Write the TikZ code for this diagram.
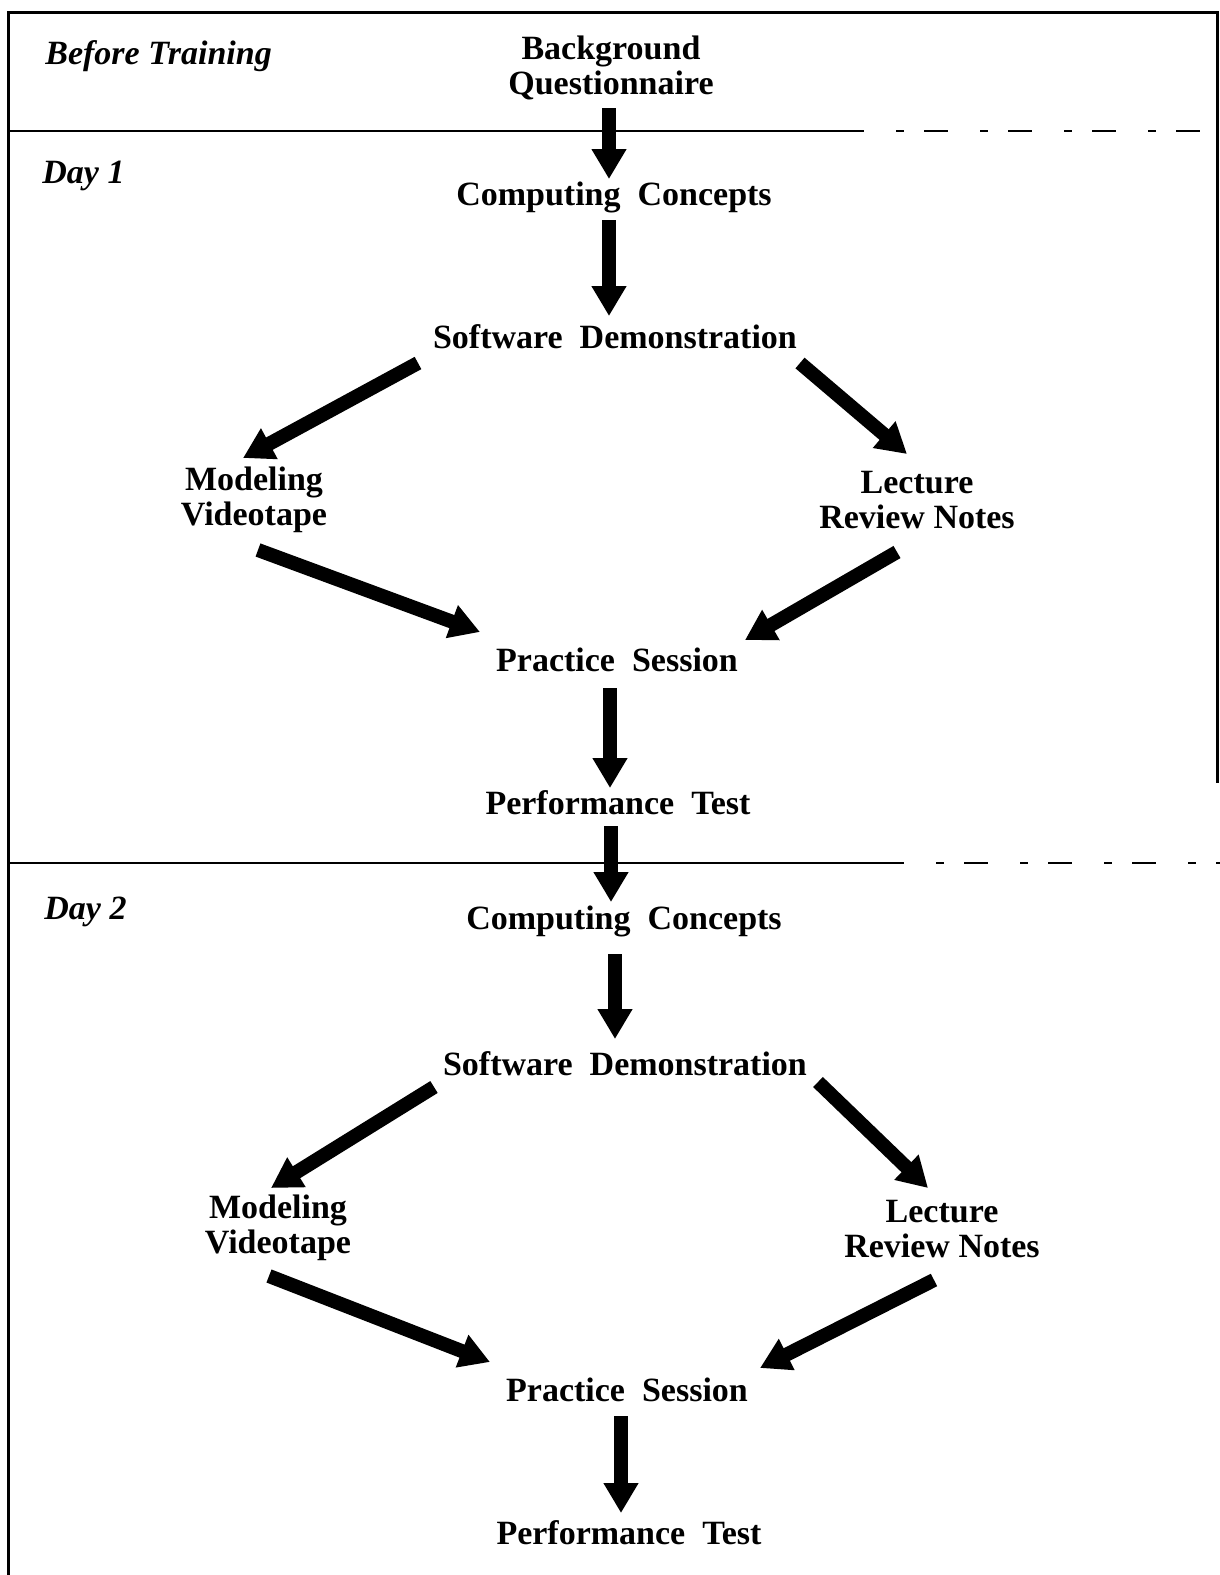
\documentclass[tikz,border=0pt]{standalone}
\usepackage{fontspec}
\setmainfont{Liberation Serif}
\usetikzlibrary{arrows.meta,calc}

\tikzset{
  stage/.style={font=\fontsize{17}{17.5}\selectfont\bfseries, align=center, inner sep=0pt},
  phase/.style={font=\fontsize{17}{17.5}\selectfont\bfseries\itshape, anchor=west, inner sep=0pt},
  flow/.style={line width=7pt, -{Triangle[length=15pt,width=16.5pt]}},
  frame/.style={line width=1.5pt},
  divider/.style={line width=0.8pt},
  brokenrule/.style={line width=0.8pt, dash pattern=on 12pt off 16pt on 4pt off 10pt}
}

\begin{document}
\begin{tikzpicture}[x=0.5pt, y=-0.5pt]
  \useasboundingbox (0,0) rectangle (1220,1575);

  % outer frame: top, left side full height, right side down to day 1 end
  \draw[frame] (8,1575) -- (8,12) -- (1217,12) -- (1217,783);

  % phase dividers
  \draw[divider] (8,131) -- (840,131);
  \draw[brokenrule] (840,131) -- (1218,131);
  \draw[divider] (8,863) -- (880,863);
  \draw[brokenrule] (880,863) -- (1220,863);

  % phase labels
  \node[phase] (before) at (45,56) {Before Training};
  \node[phase] (day1)   at (42,176) {Day 1};
  \node[phase] (day2)   at (44,912) {Day 2};

  % before training
  \node[stage] (bq) at (611,68) {Background\\Questionnaire};

  % day 1
  \node[stage] (cc1) at (614,197) {Computing \ Concepts};
  \node[stage] (sd1) at (615,337) {Software \ Demonstration};
  \node[stage] (mv1) at (254,500) {Modeling\\Videotape};
  \node[stage] (lr1) at (917,500) {Lecture\\Review Notes};
  \node[stage] (ps1) at (617,660) {Practice \ Session};
  \node[stage] (pt1) at (618,803) {Performance \ Test};

  % day 2
  \node[stage] (cc2) at (624,921) {Computing \ Concepts};
  \node[stage] (sd2) at (625,1064) {Software \ Demonstration};
  \node[stage] (mv2) at (278,1228) {Modeling\\Videotape};
  \node[stage] (lr2) at (942,1229) {Lecture\\Review Notes};
  \node[stage] (ps2) at (627,1390) {Practice \ Session};
  \node[stage] (pt2) at (629,1533) {Performance \ Test};

  % day 1 flow
  \draw[flow] ($(bq)+(-2,40)$)    -- ($(cc1)+(-5,-18)$);
  \draw[flow] ($(cc1)+(-5,23)$)   -- ($(sd1)+(-6,-21)$);
  \draw[flow] ($(sd1)+(-197,26)$) -- ($(mv1)+(-11,-42)$);
  \draw[flow] ($(sd1)+(185,26)$)  -- ($(lr1)+(-10,-46)$);
  \draw[flow] ($(mv1)+(4,50)$)    -- ($(ps1)+(-137,-28)$);
  \draw[flow] ($(lr1)+(-20,52)$)  -- ($(ps1)+(128,-20)$);
  \draw[flow] ($(ps1)+(-7,28)$)   -- ($(pt1)+(-8,-15)$);
  \draw[flow] ($(pt1)+(-7,23)$)   -- ($(cc2)+(-13,-19)$);

  % day 2 flow
  \draw[flow] ($(cc2)+(-9,33)$)   -- ($(sd2)+(-10,-25)$);
  \draw[flow] ($(sd2)+(-191,23)$) -- ($(mv2)+(-7,-40)$);
  \draw[flow] ($(sd2)+(193,18)$)  -- ($(lr2)+(-14,-41)$);
  \draw[flow] ($(mv2)+(-9,48)$)   -- ($(ps2)+(-137,-28)$);
  \draw[flow] ($(lr2)+(-8,51)$)   -- ($(ps2)+(133,-22)$);
  \draw[flow] ($(ps2)+(-6,26)$)   -- ($(pt2)+(-8,-20)$);
\end{tikzpicture}
\end{document}
